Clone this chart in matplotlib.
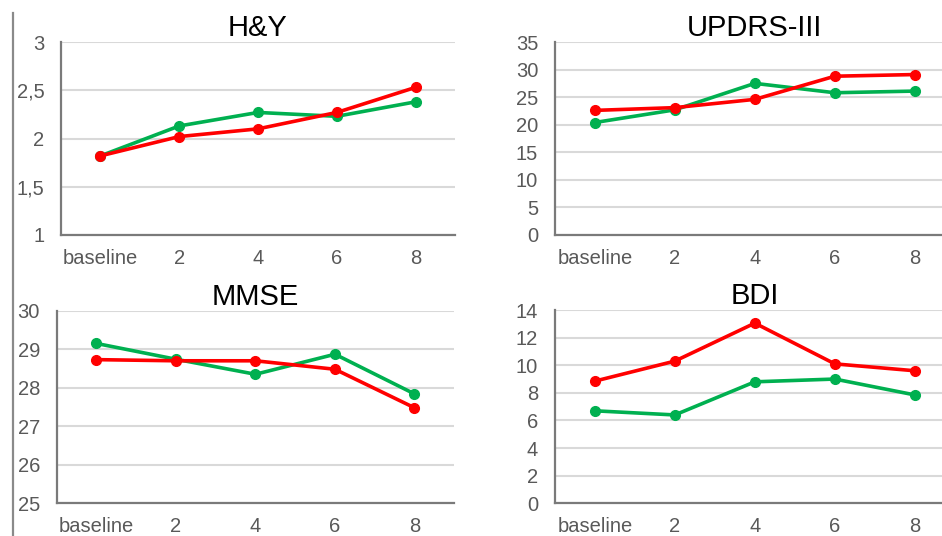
import numpy as np
import matplotlib.pyplot as plt
from matplotlib.lines import Line2D

plt.rcParams['font.family'] = ['Liberation Sans', 'DejaVu Sans']

visits = ["baseline", "2", "4", "6", "8"]

# H&Y
hy_green = [1.82, 2.13, 2.27, 2.23, 2.38]
hy_red = [1.82, 2.02, 2.10, 2.27, 2.53]

# UPDRS-III
updrs_green = [20.4, 22.7, 27.5, 25.8, 26.1]
updrs_red = [22.6, 23.1, 24.6, 28.8, 29.1]

# MMSE
mmse_green = [29.15, 28.74, 28.35, 28.87, 27.84]
mmse_red = [28.73, 28.70, 28.70, 28.48, 27.48]

# BDI
bdi_green = [6.7, 6.4, 8.8, 9.0, 7.85]
bdi_red = [8.85, 10.3, 13.05, 10.1, 9.6]

GREEN = "#00b050"
RED = "#ff0000"
GRID = "#d9d9d9"
SPINE = "#7a7a7a"
TICK = "#595959"

panels = [
    # title, green, red, ylim, yticks, labels, rect
    ("H&Y", hy_green, hy_red, (1, 3), np.arange(1, 3.01, 0.5),
     ["1", "1,5", "2", "2,5", "3"], [0.0648, 0.5616, 0.4182, 0.36]),
    ("UPDRS-III", updrs_green, updrs_red, (0, 35), np.arange(0, 36, 5),
     None, [0.589, 0.5616, 0.4246, 0.36]),
    ("MMSE", mmse_green, mmse_red, (25, 30), np.arange(25, 31, 1),
     None, [0.0602, 0.061, 0.422, 0.3593]),
    ("BDI", bdi_green, bdi_red, (0, 14), np.arange(0, 15, 2),
     None, [0.589, 0.061, 0.4246, 0.3606]),
]

fig = plt.figure(figsize=(9.42, 5.36), dpi=100)

for title, green, red, ylim, yticks, ylabels, rect in panels:
    ax = fig.add_axes(rect)
    x = np.arange(len(visits))
    ax.plot(x, green, color=GREEN, lw=2.6, marker='o', ms=7, zorder=3)
    ax.plot(x, red, color=RED, lw=2.6, marker='o', ms=7, zorder=4)
    ax.set_xlim(-0.5, len(visits) - 0.5)
    ax.set_ylim(*ylim)
    ax.set_yticks(yticks)
    if ylabels is not None:
        ax.set_yticklabels(ylabels)
    else:
        ax.set_yticklabels([str(int(v)) for v in yticks])
    ax.set_xticks(x)
    ax.set_xticklabels(visits)
    ax.yaxis.grid(True, color=GRID, lw=1.5)
    ax.set_axisbelow(True)
    for s in ["top", "right"]:
        ax.spines[s].set_visible(False)
    for s in ["left", "bottom"]:
        ax.spines[s].set_color(SPINE)
        ax.spines[s].set_linewidth(1.6)
    ax.tick_params(axis='both', length=0, labelsize=14.5, labelcolor=TICK)
    ax.tick_params(axis='y', pad=12)
    ax.tick_params(axis='x', pad=10)
    ax.set_title(title, fontsize=21, pad=4, color="black")

# vertical separator on the left
fig.add_artist(Line2D([12.5 / 942, 12.5 / 942], [0, 1 - 13 / 536],
                      color="#8a8a8a", lw=1.6))

fig.savefig("out.png", dpi=100)
